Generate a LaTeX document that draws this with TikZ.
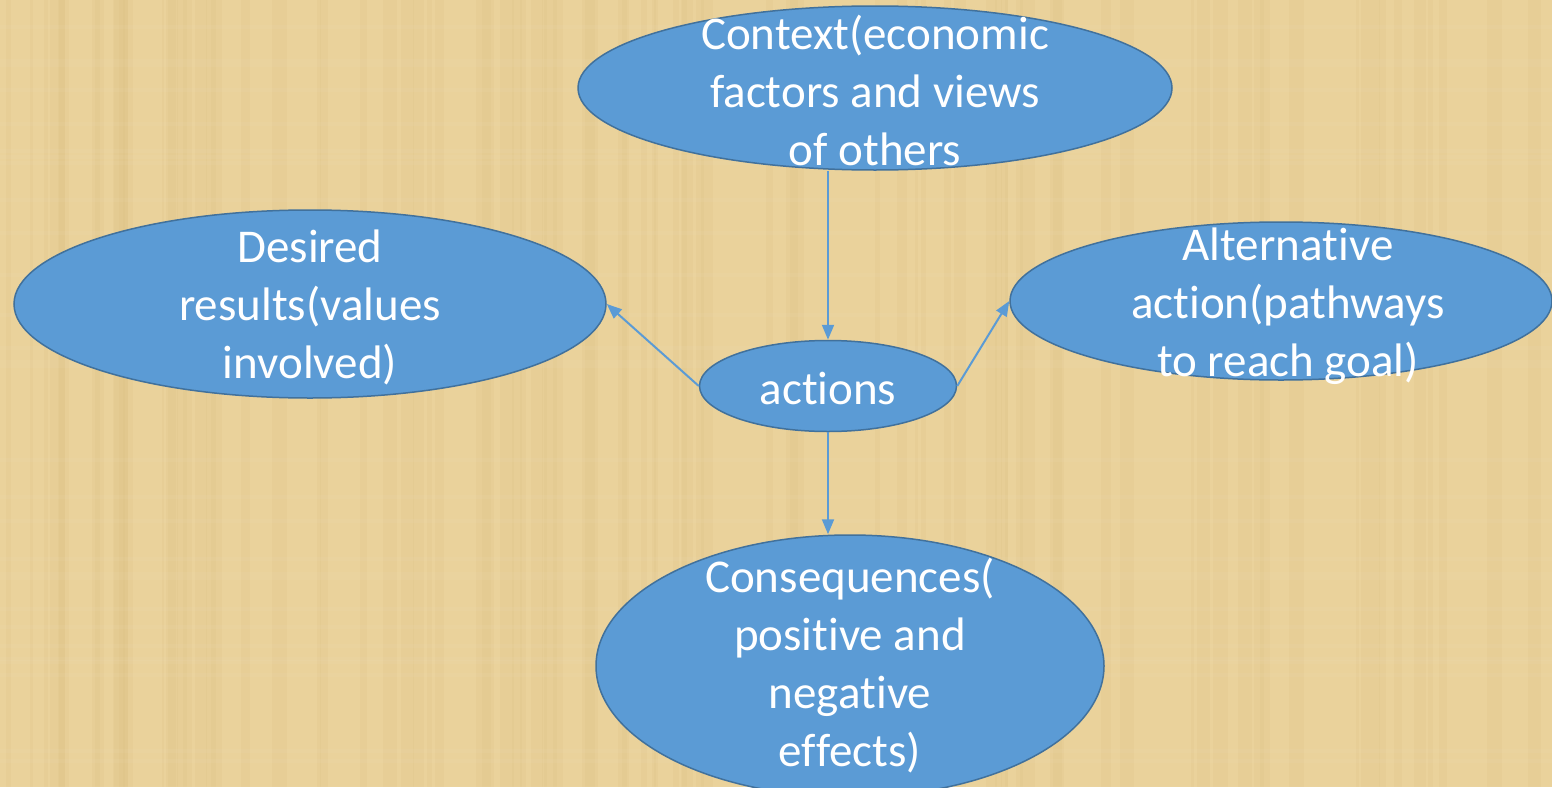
\documentclass[tikz,border=0pt]{standalone}
\usepackage{fontspec}
\setmainfont{Carlito}
\usepackage{tikz}
\usetikzlibrary{arrows.meta, shapes.geometric}
\definecolor{papyrus}{RGB}{234,210,155}
\definecolor{papyrusdark}{RGB}{214,184,120}
\definecolor{bubblefill}{RGB}{91,155,213}
\definecolor{bubbleline}{RGB}{65,113,156}
\newcommand{\nolig}{\kern0pt}
\tikzset{
  bubble/.style={ellipse, draw=bubbleline, line width=1.5pt, fill=bubblefill, inner sep=0pt},
  txt/.style={text=white, align=center, font=\fontsize{47}{58}\selectfont},
  link/.style={draw=bubblefill, line width=2pt, -{Triangle[length=15pt,width=12pt]}}
}

\begin{document}
\begin{tikzpicture}[x=1pt, y=-1pt]
\clip (0,0) rectangle (1552,787);
\fill[papyrus] (0,0) rectangle (1552,787);
% papyrus streaks
\pgfmathsetseed{7}
\foreach \i in {1,...,90}{
  \pgfmathsetmacro{\sx}{rnd*1552}
  \pgfmathsetmacro{\sw}{2+rnd*14}
  \fill[papyrusdark, opacity=0.12] (\sx,0) rectangle ++(\sw,787);
}
\foreach \i in {1,...,30}{
  \pgfmathsetmacro{\sy}{rnd*787}
  \fill[white, opacity=0.04] (0,\sy) rectangle ++(1552,4);
}

\node[bubble, minimum width=594, minimum height=164] (ctx) at (875,88) {};
\node[txt] (ctx_t) at (875,90) {Context(economic\\factors and views\\of others};

\node[bubble, minimum width=592, minimum height=188] (des) at (310,304) {};
\node[txt] (des_t) at (310,307) {Desired\\results(values\\involved)};

\node[bubble, minimum width=542, minimum height=158] (alt) at (1281,301) {};
\node[txt] (alt_t) at (1288,306) {Alterna\nolig t\nolig ive\\ac\nolig t\nolig ion(pathways\\to reach goal)};

\node[bubble, minimum width=257, minimum height=91] (act) at (828,386) {};
\node[txt] (act_t) at (828,388) {ac\nolig t\nolig ions};

\node[bubble, minimum width=508, minimum height=262] (cons) at (850,666) {};
\node[txt] (cons_t) at (850,666) {Consequences(\\posi\nolig t\nolig ive and\\nega\nolig t\nolig ive\\ef\nolig fects)};

\draw[link] (act.north |- ctx.south) -- (act.north);
\draw[link] (act.west) -- (des.east);
\draw[link] (act.east) -- (alt.west);
\draw[link] (act.south) -- (act.south |- cons.north);
\end{tikzpicture}
\end{document}
